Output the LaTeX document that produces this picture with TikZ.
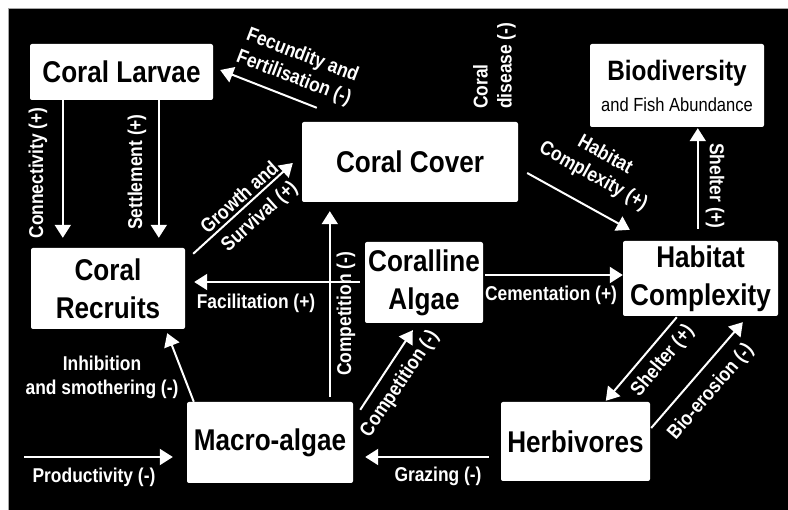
\documentclass[tikz,border=0pt]{standalone}
\usepackage{fontspec}
\setmainfont{Liberation Sans}[FakeStretch=0.87]
\usetikzlibrary{arrows.meta,calc}
\begin{document}
\begin{tikzpicture}[x=1pt,y=-1pt,
  box/.style={fill=white, rounded corners=2pt, text=black, align=center, inner sep=0pt,
    font=\fontsize{30}{38}\selectfont\bfseries},
  lbl/.style={text=white, align=center, inner sep=0pt,
    font=\fontsize{20}{24}\selectfont\bfseries},
  arr/.style={draw=white, line width=2pt, -{Triangle[length=13pt,width=16pt]}}]
\useasboundingbox (0,0) rectangle (788,510);
\fill[white] (0,0) rectangle (788,510);
\fill[black] (8,8) rectangle (788,510);
\draw[gray!70, line width=0.8pt] (8,510) -- (8,8) -- (788,8);

% boxes
\node[box, minimum width=183, minimum height=56] (larvae) at (121.5,72) {Coral Larvae};
\node[box, minimum width=216, minimum height=80] (cover) at (410,162) {Coral Cover};
\node[box, minimum width=174, minimum height=83] (bio) at (677,85.5)
  {\fontsize{28}{29}\selectfont Biodiversity\\[-7pt]\fontsize{19}{22}\selectfont\mdseries and Fish Abundance};
\node[box, minimum width=155, minimum height=75] (habitat) at (700.5,278.5) {Habitat\\Complexity};
\node[box, minimum width=154, minimum height=81] (recruits) at (108,288.5) {Coral\\Recruits};
\node[box, minimum width=118, minimum height=81] (coralline) at (424,282.5) {Coralline\\Algae};
\node[box, minimum width=166, minimum height=81] (macro) at (270,442.5) {Macro-algae};
\node[box, minimum width=149, minimum height=79] (herb) at (575.5,441.5) {Herbivores};

\coordinate (prodstart) at (24,457);

% arrows
\draw[arr] ($(larvae.south west)+(33,0)$) -- ($(recruits.north west)+(32,-10)$);
\draw[arr] ($(larvae.south west)+(129,0)$) -- ($(recruits.north west)+(128,-10)$);
\draw[arr] ($(cover.north west)+(15,-14)$) -- ($(larvae.east)+(7,-2)$);
\draw[arr] ($(recruits.north east)+(8,6)$) -- ($(cover.west)+(-9,1)$);
\draw[arr] ($(cover.east)+(9,11)$) -- ($(habitat.north west)+(7,-11)$);
\draw[arr] ($(habitat.north west)+(75,-12)$) -- ($(bio.south west)+(108,1)$);
\draw[arr] ($(coralline.west)+(-5,-0.5)$) -- ($(recruits.east)+(9,-6.5)$);
\draw[arr] ($(macro.north west)+(143,-5)$) -- ($(cover.south west)+(28,9)$);
\draw[arr] ($(coralline.east)+(2,-7.5)$) -- ($(habitat.west)+(0,-3.5)$);
\draw[arr] ($(macro.north east)+(7,8)$) -- ($(coralline.south west)+(48,7)$);
\draw[arr] ($(macro.north west)+(7,0)$) -- ($(recruits.south east)+(-18,4)$);
\draw[arr] (prodstart) -- ($(macro.west)+(-14,14.5)$);
\draw[arr] ($(herb.west)+(-12,15.5)$) -- ($(macro.east)+(12,14.5)$);
\draw[arr] ($(habitat.south west)+(54,1)$) -- ($(herb.north west)+(105,-1)$);
\draw[arr] ($(herb.east)+(1,-13.5)$) -- ($(habitat.south west)+(120,6)$);

% labels
\node[lbl, rotate=90] (lconn) at (38,173) {Connectivity (+)};
\node[lbl, rotate=90] (lsett) at (137,172) {Settlement (+)};
\node[lbl, rotate=-21] (lfec) at (298,67) {Fecundity and\\Fertilisation (-)};
\node[lbl, rotate=42] (lgro1) at (239,197) {Growth and};
\node[lbl, rotate=42] (lgro2) at (260,217) {Survival (+)};
\node[lbl, rotate=90, anchor=west, align=left] (ldis) at (494.5,109) {Coral\\disease (-)};
\node[lbl, rotate=-29] (lhab) at (599,166) {Habitat\\Complexity (+)};
\node[lbl, rotate=-90] (lshel1) at (715,186) {Shelter (+)};
\node[lbl] (lfac) at (256,303) {Facilitation (+)};
\node[lbl, rotate=90] (lcomp1) at (346,314) {Competition (-)};
\node[lbl] (lcem) at (551,295) {Cementation (+)};
\node[lbl, rotate=56] (lcomp2) at (400,384) {Competition (-)};
\node[lbl] (linh) at (102,377) {Inhibition\\and smothering (-)};
\node[lbl] (lprod) at (94,477) {Productivity (-)};
\node[lbl] (lgraz) at (438,476) {Grazing (-)};
\node[lbl, rotate=50] (lshel2) at (663,361) {Shelter (+)};
\node[lbl, rotate=49] (lbio) at (711,392) {Bio-erosion (-)};
\end{tikzpicture}
\end{document}
